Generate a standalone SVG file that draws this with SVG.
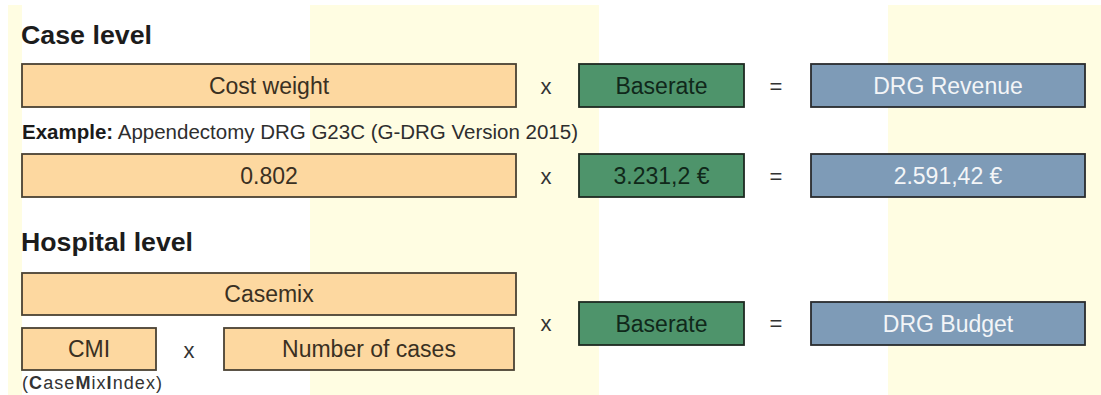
<svg xmlns="http://www.w3.org/2000/svg" width="1101" height="395" viewBox="0 0 1101 395">
<style>
text{font-family:"Liberation Sans",Arial,sans-serif}
.bg{fill:#fffde2}
.or{fill:#fdd8a0;stroke:#4a4233;stroke-width:1.8}
.gr{fill:#4e946b;stroke:#1f2a22;stroke-width:1.8}
.bl{fill:#7e9bb7;stroke:#2a2c2e;stroke-width:1.8}
.h{font-size:26px;font-weight:bold;fill:#1c1c1c}
.t{font-size:23px;text-anchor:middle}
.to{fill:#3a3022}
.tg{fill:#10281a}
.tb{fill:#f3f5f7}
.op{font-size:22px;text-anchor:middle;fill:#333}
.ex{font-size:20px;fill:#2e2e2e}
.ci{font-size:18px;fill:#333}
</style>
<g id="background">
<rect class="bg" x="8" y="5" width="14" height="390"/>
<rect class="bg" x="310" y="5" width="289" height="390"/>
<rect class="bg" x="888" y="5" width="213" height="390"/>
</g>
<g id="headings">
<text class="h" x="21" y="44" textLength="131" lengthAdjust="spacingAndGlyphs">Case level</text>
<text class="ex" x="22" y="139" textLength="556" lengthAdjust="spacingAndGlyphs"><tspan font-weight="bold" fill="#1a1a1a">Example:</tspan> Appendectomy DRG G23C (G-DRG Version 2015)</text>
<text class="h" x="21" y="251" textLength="172" lengthAdjust="spacingAndGlyphs">Hospital level</text>
</g>
<g id="cost-weight"><rect class="or" x="22" y="64" width="494" height="43"/><text class="t to" x="269" y="93.5">Cost weight</text></g>
<g id="baserate-1"><rect class="gr" x="579" y="64" width="165" height="43"/><text class="t tg" x="661.5" y="93.5">Baserate</text></g>
<g id="drg-revenue"><rect class="bl" x="811" y="64" width="274" height="43"/><text class="t tb" x="948" y="93.5">DRG Revenue</text></g>
<g id="cost-weight-example"><rect class="or" x="22" y="154" width="494" height="43"/><text class="t to" x="269" y="183.5">0.802</text></g>
<g id="baserate-example"><rect class="gr" x="579" y="154" width="165" height="43"/><text class="t tg" x="661.5" y="183.5">3.231,2 €</text></g>
<g id="drg-revenue-example"><rect class="bl" x="811" y="154" width="274" height="43"/><text class="t tb" x="948" y="183.5">2.591,42 €</text></g>
<g id="casemix"><rect class="or" x="22" y="273" width="494" height="42"/><text class="t to" x="269" y="302">Casemix</text></g>
<g id="cmi"><rect class="or" x="22" y="328" width="134" height="42"/><text class="t to" x="89" y="357">CMI</text>
<text class="ci" x="22" y="389" textLength="140" lengthAdjust="spacing">(<tspan font-weight="bold">C</tspan>ase<tspan font-weight="bold">M</tspan>ix<tspan font-weight="bold">I</tspan>ndex)</text></g>
<g id="number-of-cases"><rect class="or" x="224" y="328" width="290" height="42"/><text class="t to" x="369" y="357">Number of cases</text></g>
<g id="baserate-2"><rect class="gr" x="579" y="302" width="165" height="43"/><text class="t tg" x="661.5" y="331.5">Baserate</text></g>
<g id="drg-budget"><rect class="bl" x="811" y="302" width="274" height="43"/><text class="t tb" x="948" y="331.5">DRG Budget</text></g>
<g id="operators">
<text class="op" x="546" y="94">x</text>
<text class="op" x="776" y="94">=</text>
<text class="op" x="546" y="184">x</text>
<text class="op" x="776" y="184">=</text>
<text class="op" x="189" y="358">x</text>
<text class="op" x="546" y="331">x</text>
<text class="op" x="776" y="331">=</text>
</g>
</svg>
